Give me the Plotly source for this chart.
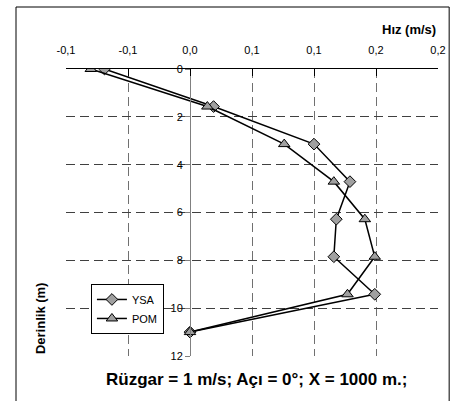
import plotly.graph_objects as go

# Data
depth = [0, 1.57, 3.14, 4.71, 6.28, 7.85, 9.42, 11.0]
ysa = [-0.069, 0.019, 0.100, 0.129, 0.118, 0.116, 0.149, 0.0]
pom = [-0.080, 0.014, 0.076, 0.116, 0.141, 0.149, 0.127, 0.0]
x_tickvals = [-0.1, -0.05, 0.0, 0.05, 0.1, 0.15, 0.2]
x_ticktext = ["-0,1", "-0,1", "0,0", "0,1", "0,1", "0,2", "0,2"]
y_tickvals = [0, 2, 4, 6, 8, 10, 12]
y_ticktext = ["0", "2", "4", "6", "8", "10", "12"]

FONT = "Liberation Sans, Arial, sans-serif"
MARKER_FILL = "#a0a0a0"

fig = go.Figure()
fig.add_trace(go.Scatter(
    x=ysa, y=depth, name="YSA", mode="lines+markers",
    line=dict(color="black", width=1.5),
    marker=dict(symbol="diamond", size=9, color=MARKER_FILL,
                line=dict(color="black", width=1)),
))
fig.add_trace(go.Scatter(
    x=pom, y=depth, name="POM", mode="lines+markers",
    line=dict(color="black", width=1.5),
    marker=dict(symbol="triangle-up", size=10, color=MARKER_FILL,
                line=dict(color="black", width=1)),
))

fig.update_layout(
    width=452, height=401,
    margin=dict(l=66, r=14, t=69, b=45, autoexpand=False),
    paper_bgcolor="white", plot_bgcolor="white",
    font=dict(family=FONT, size=11, color="black"),
    showlegend=True,
    legend=dict(x=0.067, y=0.251, xanchor="left", yanchor="top",
                bgcolor="white", bordercolor="black", borderwidth=1,
                font=dict(size=11), tracegroupgap=0, itemwidth=30),
    xaxis=dict(
        side="top", range=[-0.1, 0.2], tickvals=x_tickvals, ticktext=x_ticktext,
        showline=True, linecolor="black", linewidth=1,
        ticks="inside", ticklen=7, tickcolor="black",
        showgrid=True, gridcolor="#707070", griddash="9px,5px", gridwidth=1,
        zeroline=False, ticklabelstandoff=10, automargin=False,
        tickfont=dict(size=11),
    ),
    yaxis=dict(
        range=[12, 0], tickvals=y_tickvals, ticktext=y_ticktext,
        anchor="free", position=1/3, automargin=False,
        showline=True, linecolor="#808080", linewidth=1,
        ticks="outside", ticklen=5, tickcolor="#808080",
        showgrid=True, gridcolor="#404040", griddash="9px,5px", gridwidth=1,
        zeroline=False, tickfont=dict(size=11),
    ),
    annotations=[
        dict(text="<b>Hız (m/s)</b>", xref="paper", yref="paper",
             x=1.0, y=1.139, xanchor="right", yanchor="middle",
             showarrow=False, font=dict(size=13)),
        dict(text="<b>Derinlik (m)</b>", xref="paper", yref="paper",
             x=-0.07, y=0.132, xanchor="center", yanchor="middle",
             textangle=-90, showarrow=False, font=dict(size=13)),
        dict(text="<b>Rüzgar = 1 m/s; Açı = 0°; X = 1000 m.;</b>",
             xref="paper", yref="paper", x=0.511, y=-0.0836,
             xanchor="center", yanchor="middle", showarrow=False,
             font=dict(size=17)),
    ],
    shapes=[
        dict(type="line", xref="paper", yref="paper",
             x0=-0.1344, x1=1.03, y0=1.216, y1=1.216,
             line=dict(color="black", width=1), layer="below"),
        dict(type="line", xref="paper", yref="paper",
             x0=-0.1344, x1=-0.1344, y0=-0.16, y1=1.216,
             line=dict(color="black", width=1), layer="below"),
        dict(type="line", xref="paper", yref="paper",
             x0=1.03, x1=1.03, y0=-0.16, y1=1.216,
             line=dict(color="black", width=1), layer="below"),
    ],
)

fig.write_html("out.html", config={"displayModeBar": False},
               post_script="document.body.style.margin='0px';document.body.style.padding='0px';")
